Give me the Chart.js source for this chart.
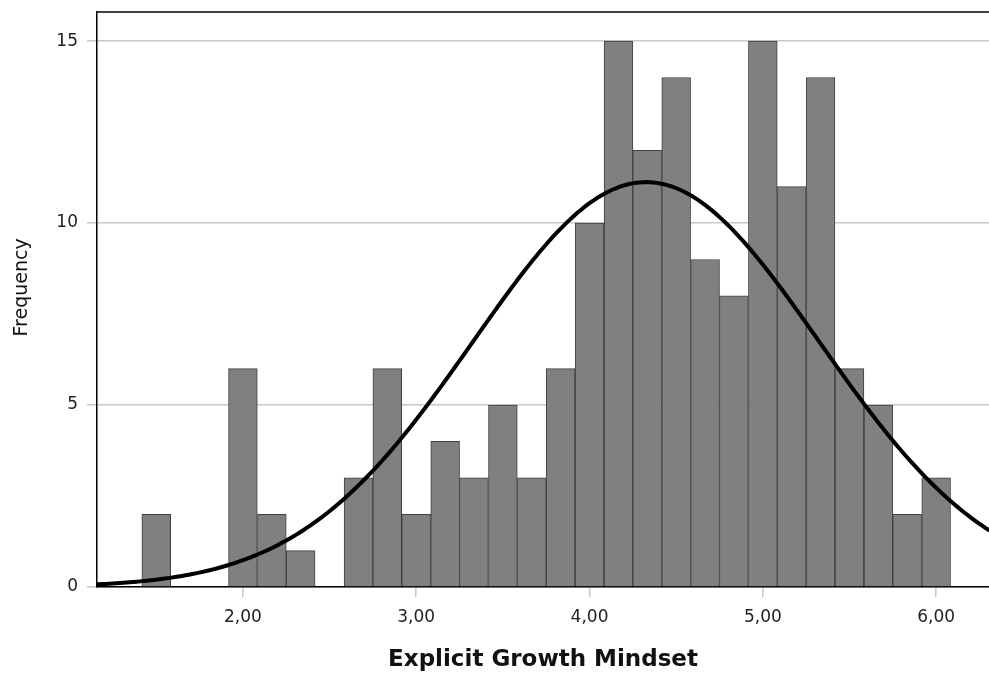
<!DOCTYPE html>
<html>
<head>
<meta charset="utf-8">
<title>Explicit Growth Mindset</title>
<script src="https://cdn.jsdelivr.net/npm/chart.js@4/dist/chart.umd.min.js"></script>
<style>
  html, body { margin: 0; padding: 0; background: #ffffff; }
  canvas { display: block; }
</style>
</head>
<body>
<canvas id="hist" width="989" height="680"></canvas>
<script>
// Histogram bins (centre of each bin) and their frequencies
const binCenters = [1.500, 2.000, 2.167, 2.333, 2.667, 2.833, 3.000, 3.167, 3.333,
                    3.500, 3.667, 3.833, 4.000, 4.167, 4.333, 4.500, 4.667, 4.833,
                    5.000, 5.167, 5.333, 5.500, 5.667, 5.833, 6.000];
const counts     = [2, 6, 2, 1, 3, 6, 2, 4, 3,
                    5, 3, 6, 10, 15, 12, 14, 9, 8,
                    15, 11, 14, 6, 5, 2, 3];
const binWidth = 1 / 6;

// Axis ranges and tick labels
const xRange = [1.158, 6.305];
const yRange = [0, 15.8];
const xTicks = [2, 3, 4, 5, 6];
const yTicks = [0, 5, 10, 15];

const FONT = "'DejaVu Sans', 'Liberation Sans', sans-serif";

// Normal curve fitted to the binned frequencies
const total = counts.reduce((s, c) => s + c, 0);
const mean = binCenters.reduce((s, x, i) => s + x * counts[i], 0) / total;
const sd = Math.sqrt(binCenters.reduce((s, x, i) => s + counts[i] * (x - mean) ** 2, 0) / (total - 1));
const curvePoints = [];
for (let x = xRange[0] - 0.05; x <= xRange[1] + 0.05; x += 0.02) {
  const z = (x - mean) / sd;
  curvePoints.push({ x, y: total * binWidth * Math.exp(-0.5 * z * z) / (sd * Math.sqrt(2 * Math.PI)) });
}

const barPoints = binCenters.map((x, i) => ({ x, y: counts[i] }));

// Closes the frame along the top of the plot area
const frameTop = {
  id: 'frameTop',
  afterDraw(chart) {
    const { ctx, chartArea: a } = chart;
    ctx.save();
    ctx.strokeStyle = '#000000';
    ctx.lineWidth = 1.5;
    ctx.beginPath();
    ctx.moveTo(a.left, a.top);
    ctx.lineTo(a.right, a.top);
    ctx.stroke();
    ctx.restore();
  }
};

new Chart(document.getElementById('hist'), {
  type: 'bar',
  data: {
    datasets: [
      {
        type: 'line',
        label: 'Normal',
        data: curvePoints,
        borderColor: '#000000',
        borderWidth: 4,
        pointRadius: 0,
        tension: 0,
        fill: false,
        order: 0
      },
      {
        type: 'bar',
        label: 'Frequency',
        data: barPoints,
        backgroundColor: '#808080',
        borderColor: '#404040',
        borderWidth: 1,
        barPercentage: 1,
        categoryPercentage: 1,
        grouped: false,
        order: 1
      }
    ]
  },
  options: {
    responsive: false,
    devicePixelRatio: 1,
    animation: false,
    layout: { padding: { top: 12, right: 0, left: 0, bottom: 0 } },
    plugins: {
      legend: { display: false },
      tooltip: { enabled: false }
    },
    scales: {
      x: {
        type: 'linear',
        offset: false,
        min: xRange[0],
        max: xRange[1],
        afterBuildTicks: s => { s.ticks = xTicks.map(v => ({ value: v })); },
        afterFit: s => { s.height = 93; s.paddingLeft = 0; s.paddingRight = 0; },
        ticks: {
          callback: v => v.toFixed(2).replace('.', ','),
          font: { family: FONT, size: 17 },
          color: '#222222',
          padding: 10,
          autoSkip: false,
          maxRotation: 0
        },
        grid: { offset: false, drawOnChartArea: false, drawTicks: true, tickLength: 10, color: '#c8c8c8', lineWidth: 1.5 },
        border: { color: '#000000', width: 1.5 },
        title: {
          display: true,
          text: 'Explicit Growth Mindset',
          font: { family: FONT, size: 23, weight: 'bold' },
          color: '#111111',
          padding: { top: 0, bottom: 6 }
        }
      },
      y: {
        min: yRange[0],
        max: yRange[1],
        afterBuildTicks: s => { s.ticks = yTicks.map(v => ({ value: v })); },
        afterFit: s => { s.width = 97; s.paddingTop = 0; s.paddingBottom = 0; },
        ticks: {
          font: { family: FONT, size: 17 },
          color: '#222222',
          padding: 9
        },
        grid: { color: '#c8c8c8', lineWidth: 1.5, drawTicks: true, tickLength: 10 },
        border: { color: '#000000', width: 1.5 },
        title: {
          display: true,
          text: '    Frequency',
          font: { family: FONT, size: 19 },
          color: '#111111',
          padding: { top: 11, bottom: 0 }
        }
      }
    }
  },
  plugins: [frameTop]
});
</script>
</body>
</html>
